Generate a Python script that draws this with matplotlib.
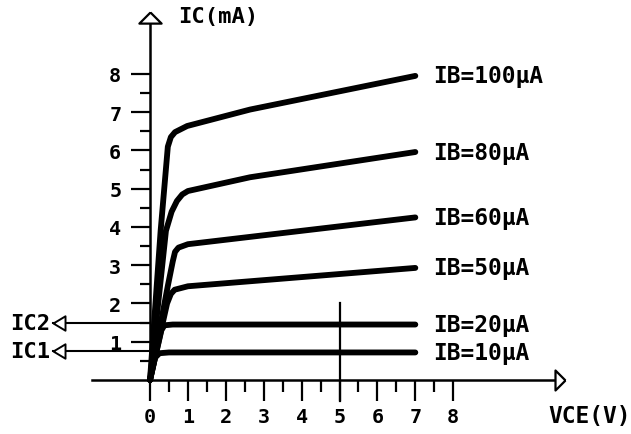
import matplotlib.pyplot as plt
import numpy as np

# output characteristic curves (VCE in V, IC in mA)
vce_100 = [0, 0.28, 0.47, 0.55, 0.66, 0.98, 2.64, 7.0]
ic_100 = [0, 3.9, 6.1, 6.35, 6.48, 6.64, 7.07, 7.95]
vce_80 = [0, 0.42, 0.57, 0.71, 0.85, 1.0, 2.64, 7.0]
ic_80 = [0, 3.9, 4.4, 4.68, 4.85, 4.94, 5.3, 5.96]
vce_60 = [0, 0.47, 0.6, 0.66, 0.75, 1.0, 7.0]
ic_60 = [0, 2.46, 3.1, 3.35, 3.46, 3.55, 4.25]
vce_50 = [0, 0.45, 0.55, 0.65, 1.0, 7.0]
ic_50 = [0, 2.0, 2.25, 2.36, 2.45, 2.93]
vce_20 = [0, 0.3, 0.38, 0.6, 7.0]
ic_20 = [0, 1.3, 1.43, 1.45, 1.45]
vce_10 = [0, 0.13, 0.25, 0.5, 7.0]
ic_10 = [0, 0.58, 0.7, 0.72, 0.72]

curves = [(vce_100, ic_100, "IB=100μA"), (vce_80, ic_80, "IB=80μA"),
          (vce_60, ic_60, "IB=60μA"), (vce_50, ic_50, "IB=50μA"),
          (vce_20, ic_20, "IB=20μA"), (vce_10, ic_10, "IB=10μA")]

x_ticks = [0, 1, 2, 3, 4, 5, 6, 7, 8]
y_ticks = [1, 2, 3, 4, 5, 6, 7, 8]
ic_marks = [1.5, 0.75]
ic_mark_labels = ["IC2", "IC1"]
vce_mark = 5
vce_mark_top = 2.0

FONT = "DejaVu Sans Mono"
plt.rcParams["font.family"] = FONT
plt.rcParams["font.weight"] = "bold"

fig = plt.figure(figsize=(6.31, 4.35), dpi=100)
ax = fig.add_axes([0, 0, 1, 1])
ax.set_xlim(-3.958, 12.69)
ax.set_ylim(-1.412, 9.96)

# axes through the origin
for s in ["top", "right"]:
    ax.spines[s].set_visible(False)
ax.spines["left"].set_position(("data", 0))
ax.spines["bottom"].set_position(("data", 0))
ax.spines["left"].set_bounds(0, 9.36)
ax.spines["bottom"].set_bounds(-1.53, 10.69)
ax.spines["left"].set_linewidth(1.8)
ax.spines["bottom"].set_linewidth(1.8)

ax.set_xticks(x_ticks)
ax.set_xticks(np.arange(0.5, 8, 1), minor=True)
ax.set_yticks(y_ticks)
ax.set_yticks(np.arange(0.5, 8, 1), minor=True)
ax.tick_params(axis="y", which="major", direction="out", length=13.7, width=1.6,
               pad=7, labelsize=14.5)
ax.tick_params(axis="y", which="minor", direction="out", length=7.2, width=1.6)
ax.tick_params(axis="x", which="major", direction="out", length=15, width=1.6,
               pad=4.5, labelsize=14.5)
ax.tick_params(axis="x", which="minor", direction="out", length=8.6, width=1.6)
for lab in ax.get_xticklabels() + ax.get_yticklabels():
    lab.set_fontweight("bold")

# open arrow heads on the axes
ax.plot([0], [9.62], marker=[(0, 0), (-1, -1), (1, -1), (0, 0)], ms=16,
        mfc="white", mec="black", mew=1.6, clip_on=False, zorder=5)
ax.plot([10.95], [0], marker=[(0, 0), (-1, 1), (-1, -1), (0, 0)], ms=14.4,
        mfc="white", mec="black", mew=1.6, clip_on=False, zorder=5)

ax.text(0.74, 9.52, "IC(mA)", fontsize=16, fontweight="bold", va="center", ha="left")
ax.text(10.5, -0.92, "VCE(V)", fontsize=16.5, fontweight="bold", va="center", ha="left")

# characteristic curves
for vce, ic, label in curves:
    ax.plot(vce, ic, color="black", lw=4.2, solid_capstyle="round",
            solid_joinstyle="round", zorder=3)
    ax.text(7.47, ic[-1], label, fontsize=16.5, fontweight="bold",
            va="center", ha="left")

# IC1 / IC2 markers
for ic, label in zip(ic_marks, ic_mark_labels):
    ax.plot([-2.56, 0], [ic, ic], color="black", lw=1.5, zorder=2)
    ax.plot([-2.56], [ic], marker=[(0, 0), (1, 0.6), (1, -0.6), (0, 0)], ms=17.3,
            mfc="white", mec="black", mew=1.4, zorder=5)
    ax.text(-2.62, ic, label, fontsize=16, fontweight="bold", va="center", ha="right")

# VCE = 5 V marker line
ax.plot([vce_mark, vce_mark], [-0.55, vce_mark_top], color="black", lw=1.6)

plt.savefig("out.png", dpi=100)
